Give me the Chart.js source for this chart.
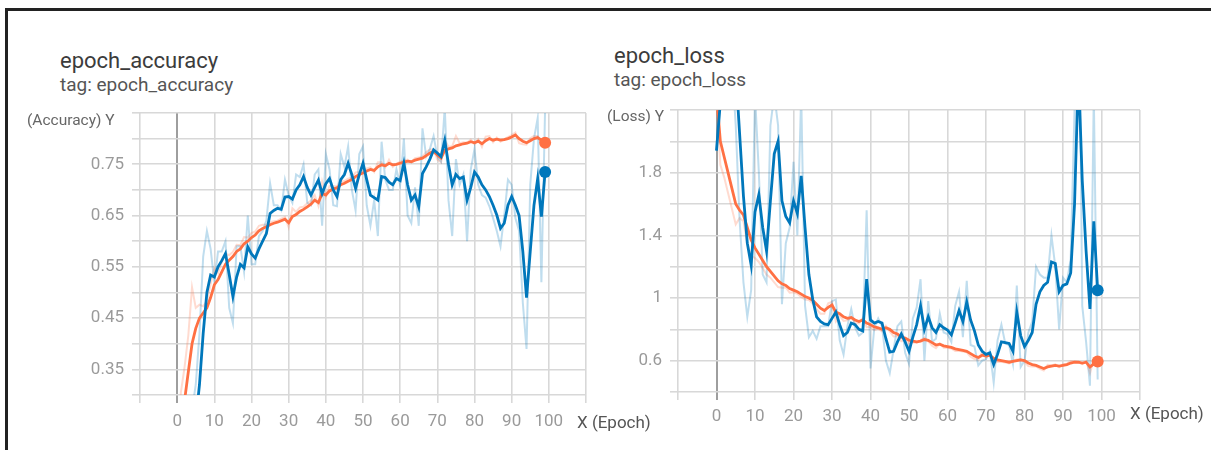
<!DOCTYPE html>
<html>
<head>
<meta charset="utf-8">
<script src="https://cdn.jsdelivr.net/npm/chart.js@4.4.0/dist/chart.umd.min.js"></script>
<style>
  html, body { margin: 0; padding: 0; background: #fff; }
  body { width: 1211px; height: 450px; position: relative; overflow: hidden; font-family: Roboto, "Noto Sans", sans-serif; }
  .frame { position: absolute; left: 5px; top: 8px; right: 0; bottom: 0; border-top: 3px solid #222; border-left: 3px solid #222; }
  .title { position: absolute; font-size: 22px; line-height: 1; color: #3c3c3c; white-space: nowrap; }
  .tag { position: absolute; font-size: 19px; line-height: 1; color: #555; white-space: nowrap; }
  .ylab { position: absolute; font-size: 15.5px; line-height: 1; color: #666; white-space: nowrap; }
  .xlab { position: absolute; font-size: 17px; line-height: 1; color: #555; white-space: nowrap; }
  canvas { position: absolute; top: 0; }
</style>
</head>
<body>
<div class="frame"></div>

<div class="title" style="left:60px;top:50px">epoch_accuracy</div>
<div class="tag" style="left:60px;top:75px">tag: epoch_accuracy</div>
<div class="title" style="left:614px;top:45px">epoch_loss</div>
<div class="tag" style="left:614px;top:70px">tag: epoch_loss</div>

<canvas id="chart-acc" width="600" height="450" style="left:0"></canvas>
<canvas id="chart-loss" width="611" height="450" style="left:600px"></canvas>

<div class="ylab" style="left:27px;top:113px">(Accuracy) Y</div>
<div class="ylab" style="left:607px;top:109px">(Loss) Y</div>
<div class="xlab" style="left:577px;top:414px">X (Epoch)</div>
<div class="xlab" style="left:1130px;top:405px">X (Epoch)</div>

<script>
// ─── Data ─────────────────────────────────────────────────────────────────────

const EPOCHS = [
  0, 1, 2, 3, 4, 5, 6, 7, 8, 9, 10, 11, 12, 13, 14, 15, 16, 17, 18, 19,
  20, 21, 22, 23, 24, 25, 26, 27, 28, 29, 30, 31, 32, 33, 34, 35, 36, 37, 38, 39,
  40, 41, 42, 43, 44, 45, 46, 47, 48, 49, 50, 51, 52, 53, 54, 55, 56, 57, 58, 59,
  60, 61, 62, 63, 64, 65, 66, 67, 68, 69, 70, 71, 72, 73, 74, 75, 76, 77, 78, 79,
  80, 81, 82, 83, 84, 85, 86, 87, 88, 89, 90, 91, 92, 93, 94, 95, 96, 97, 98, 99,
];

const X_LABELS = [0, 10, 20, 30, 40, 50, 60, 70, 80, 90, 100];
const ACC_Y_LABELS = [0.35, 0.45, 0.55, 0.65, 0.75];
const LOSS_Y_LABELS = [0.6, 1, 1.4, 1.8];

// train (orange)
const ACC_TRAIN_SMOOTH = [
  0.19, 0.24, 0.29, 0.345, 0.40, 0.43, 0.45, 0.46, 0.47, 0.49,
  0.515, 0.525, 0.54, 0.555, 0.563, 0.57, 0.58, 0.585, 0.595, 0.60,
  0.607, 0.612, 0.62, 0.625, 0.628, 0.632, 0.635, 0.637, 0.64, 0.643,
  0.636, 0.648, 0.652, 0.658, 0.662, 0.667, 0.672, 0.68, 0.675, 0.693,
  0.69, 0.698, 0.702, 0.704, 0.71, 0.713, 0.717, 0.72, 0.726, 0.73,
  0.733, 0.737, 0.74, 0.738, 0.745, 0.749, 0.747, 0.752, 0.749, 0.75,
  0.752, 0.754, 0.756, 0.755, 0.758, 0.76, 0.762, 0.767, 0.772, 0.775,
  0.768, 0.762, 0.777, 0.78, 0.782, 0.786, 0.788, 0.79, 0.791, 0.794,
  0.792, 0.795, 0.79, 0.796, 0.80, 0.797, 0.799, 0.797, 0.798, 0.80,
  0.803, 0.807, 0.80, 0.795, 0.792, 0.796, 0.80, 0.802, 0.797, 0.792,
];
const ACC_TRAIN_RAW = [
  0.19, 0.305, 0.355, 0.416, 0.51, 0.47, 0.476, 0.473, 0.483, 0.516,
  0.548, 0.538, 0.56, 0.575, 0.573, 0.579, 0.593, 0.592, 0.608, 0.607,
  0.616, 0.619, 0.63, 0.632, 0.632, 0.637, 0.639, 0.64, 0.644, 0.647,
  0.627, 0.664, 0.657, 0.666, 0.667, 0.674, 0.679, 0.69, 0.669, 0.716,
  0.686, 0.708, 0.707, 0.707, 0.718, 0.717, 0.722, 0.724, 0.734, 0.735,
  0.737, 0.742, 0.744, 0.735, 0.754, 0.754, 0.744, 0.759, 0.745, 0.751,
  0.755, 0.757, 0.759, 0.754, 0.762, 0.763, 0.765, 0.774, 0.779, 0.779,
  0.759, 0.754, 0.797, 0.784, 0.785, 0.805, 0.791, 0.793, 0.792, 0.798,
  0.789, 0.799, 0.784, 0.804, 0.805, 0.793, 0.802, 0.794, 0.799, 0.803,
  0.807, 0.812, 0.791, 0.789, 0.788, 0.801, 0.805, 0.805, 0.79, 0.786,
];

// validation (blue)
const ACC_VAL_SMOOTH = [
  0.02, 0.06, 0.10, 0.15, 0.20, 0.25, 0.32, 0.42, 0.50, 0.534,
  0.53, 0.55, 0.562, 0.576, 0.535, 0.492, 0.53, 0.555, 0.548, 0.589,
  0.575, 0.567, 0.585, 0.60, 0.615, 0.654, 0.66, 0.664, 0.662, 0.686,
  0.687, 0.682, 0.70, 0.71, 0.726, 0.705, 0.69, 0.705, 0.719, 0.693,
  0.712, 0.722, 0.70, 0.687, 0.72, 0.73, 0.752, 0.73, 0.703, 0.73,
  0.752, 0.72, 0.69, 0.685, 0.68, 0.726, 0.724, 0.715, 0.71, 0.722,
  0.718, 0.752, 0.71, 0.68, 0.69, 0.667, 0.732, 0.745, 0.76, 0.778,
  0.772, 0.765, 0.797, 0.75, 0.71, 0.73, 0.722, 0.725, 0.68, 0.705,
  0.735, 0.725, 0.71, 0.70, 0.687, 0.67, 0.651, 0.625, 0.635, 0.67,
  0.687, 0.67, 0.65, 0.58, 0.49, 0.58, 0.67, 0.722, 0.648, 0.735,
];
const ACC_VAL_RAW = [
  0.02, 0.12, 0.16, 0.22, 0.27, 0.32, 0.42, 0.57, 0.62, 0.585,
  0.52, 0.58, 0.58, 0.60, 0.47, 0.44, 0.59, 0.59, 0.54, 0.65,
  0.555, 0.555, 0.61, 0.62, 0.64, 0.713, 0.67, 0.67, 0.66, 0.72,
  0.69, 0.675, 0.73, 0.725, 0.75, 0.675, 0.67, 0.73, 0.74, 0.63,
  0.77, 0.74, 0.67, 0.668, 0.77, 0.745, 0.785, 0.70, 0.66, 0.77,
  0.785, 0.67, 0.63, 0.68, 0.61, 0.794, 0.72, 0.70, 0.70, 0.74,
  0.71, 0.80, 0.65, 0.635, 0.705, 0.63, 0.82, 0.765, 0.78, 0.805,
  0.765, 0.755, 0.86, 0.68, 0.61, 0.76, 0.71, 0.73, 0.60, 0.74,
  0.78, 0.71, 0.69, 0.685, 0.668, 0.645, 0.62, 0.59, 0.65, 0.72,
  0.71, 0.645, 0.62, 0.48, 0.39, 0.71, 0.80, 0.84, 0.52, 0.86,
];

const LOSS_TRAIN_SMOOTH = [
  2.30, 2.00, 1.90, 1.80, 1.70, 1.60, 1.56, 1.53, 1.45, 1.37,
  1.32, 1.28, 1.24, 1.20, 1.17, 1.14, 1.11, 1.09, 1.08, 1.06,
  1.05, 1.04, 1.025, 1.01, 1.00, 0.985, 0.96, 0.935, 0.92, 0.94,
  0.955, 0.91, 0.90, 0.88, 0.87, 0.875, 0.86, 0.85, 0.86, 0.84,
  0.83, 0.815, 0.81, 0.80, 0.81, 0.80, 0.78, 0.77, 0.75, 0.745,
  0.73, 0.725, 0.72, 0.725, 0.735, 0.73, 0.715, 0.70, 0.705, 0.695,
  0.69, 0.685, 0.675, 0.67, 0.665, 0.66, 0.645, 0.63, 0.62, 0.635,
  0.63, 0.635, 0.615, 0.605, 0.60, 0.595, 0.59, 0.595, 0.60, 0.605,
  0.60, 0.585, 0.575, 0.57, 0.56, 0.55, 0.56, 0.565, 0.57, 0.565,
  0.57, 0.575, 0.585, 0.59, 0.59, 0.585, 0.59, 0.56, 0.58, 0.595,
];
const LOSS_TRAIN_RAW = [
  2.30, 1.85, 1.77, 1.67, 1.57, 1.47, 1.51, 1.49, 1.35, 1.27,
  1.255, 1.23, 1.19, 1.15, 1.13, 1.10, 1.07, 1.065, 1.067, 1.034,
  1.037, 1.027, 1.006, 0.99, 0.987, 0.965, 0.928, 0.90, 0.90, 0.966,
  0.975, 0.85, 0.887, 0.854, 0.857, 0.88, 0.84, 0.837, 0.873, 0.814,
  0.817, 0.795, 0.803, 0.787, 0.823, 0.787, 0.754, 0.757, 0.724, 0.738,
  0.71, 0.718, 0.713, 0.73, 0.748, 0.723, 0.695, 0.68, 0.71, 0.682,
  0.683, 0.678, 0.662, 0.663, 0.658, 0.653, 0.625, 0.61, 0.607, 0.655,
  0.623, 0.64, 0.589, 0.592, 0.593, 0.588, 0.583, 0.60, 0.607, 0.61,
  0.593, 0.565, 0.562, 0.563, 0.547, 0.537, 0.573, 0.57, 0.577, 0.558,
  0.577, 0.58, 0.598, 0.597, 0.59, 0.578, 0.597, 0.52, 0.606, 0.615,
];

const LOSS_VAL_SMOOTH = [
  1.94, 2.25, 2.6, 2.9, 2.8, 2.45, 2.05, 1.65, 1.35, 1.21,
  1.55, 1.66, 1.45, 1.30, 1.62, 1.92, 2.0, 1.62, 1.52, 1.48,
  1.62, 1.54, 1.78, 1.45, 1.15, 0.99, 0.88, 0.85, 0.835, 0.83,
  0.87, 0.91, 0.83, 0.76, 0.78, 0.84, 0.83, 0.80, 0.79, 1.12,
  0.86, 0.84, 0.85, 0.84, 0.74, 0.655, 0.66, 0.72, 0.77, 0.72,
  0.66, 0.75, 0.83, 0.95, 0.80, 0.88, 0.81, 0.78, 0.83, 0.81,
  0.795, 0.765, 0.84, 0.92, 0.85, 0.975, 0.86, 0.79, 0.70, 0.66,
  0.64, 0.65, 0.575, 0.64, 0.72, 0.715, 0.71, 0.66, 0.91, 0.76,
  0.69, 0.73, 0.78, 0.96, 1.04, 1.08, 1.10, 1.23, 1.22, 1.04,
  1.08, 1.09, 1.16, 1.6, 2.45, 1.75, 1.30, 0.93, 1.49, 1.05,
];
const LOSS_VAL_RAW = [
  1.94, 2.5, 3.2, 3.1, 2.5, 2.1, 1.5, 1.1, 0.88, 1.05,
  2.3, 1.8, 1.15, 1.10, 2.1, 2.3, 2.1, 0.96, 1.35, 1.45,
  1.87, 1.40, 2.3, 0.95, 0.75, 0.79, 0.74, 0.82, 0.82, 0.82,
  0.98, 0.99, 0.73, 0.64, 0.82, 0.93, 0.81, 0.76, 0.78, 1.56,
  0.55, 0.81, 0.87, 0.82, 0.60, 0.52, 0.67, 0.82, 0.85, 0.65,
  0.58, 0.87, 0.94, 1.12, 0.60, 0.98, 0.72, 0.74, 0.90, 0.78,
  0.77, 0.72, 0.95, 1.04, 0.75, 1.11, 0.70, 0.69, 0.57, 0.60,
  0.61, 0.66, 0.46, 0.73, 0.83, 0.71, 0.70, 0.58, 1.08, 0.56,
  0.60, 0.78, 0.85, 1.20, 1.15, 1.13, 1.13, 1.40, 1.20, 0.80,
  1.13, 1.10, 1.25, 2.2, 3.5, 0.95, 0.72, 0.44, 2.3, 0.48,
];

// ─── Styles ───────────────────────────────────────────────────────────────────

const BLUE = "#0077bb";
const ORANGE = "#ff7043";
const BLUE_FAINT = "rgba(0, 119, 187, 0.25)";
const ORANGE_FAINT = "rgba(255, 112, 67, 0.25)";
const GRID = "#d8d8d8";
const ZERO_LINE = "#9e9e9e";
const TICK_COLOR = "#9a9a9a";
const FONT = "Roboto, 'Noto Sans', sans-serif";

// ─── Builders ─────────────────────────────────────────────────────────────────

function toPoints(values) {
  return values.map((v, i) => ({ x: EPOCHS[i], y: v }));
}

function smoothLine(values, color) {
  const last = values.length - 1;
  return {
    data: toPoints(values),
    borderColor: color,
    backgroundColor: color,
    borderWidth: 2.8,
    pointRadius: (ctx) => (ctx.dataIndex === last ? 6 : 0),
    pointBorderWidth: 0,
    pointHoverRadius: 0,
    tension: 0,
    clip: 0,
  };
}

function rawLine(values, color) {
  return {
    data: toPoints(values),
    borderColor: color,
    borderWidth: 2,
    pointRadius: 0,
    tension: 0,
    clip: 0,
  };
}

function hasLabel(list, value) {
  return list.some((l) => Math.abs(l - value) < 1e-6);
}

function buildChart(id, series, box, yAxis) {
  const ctx = document.getElementById(id).getContext("2d");
  return new Chart(ctx, {
    type: "line",
    data: {
      datasets: [
        smoothLine(series.valSmooth, BLUE),
        smoothLine(series.trainSmooth, ORANGE),
        rawLine(series.valRaw, BLUE_FAINT),
        rawLine(series.trainRaw, ORANGE_FAINT),
      ],
    },
    options: {
      responsive: false,
      animation: false,
      events: [],
      layout: { padding: { top: box.top, right: box.right, left: 0, bottom: 0 } },
      plugins: { legend: { display: false }, tooltip: { enabled: false } },
      scales: {
        x: {
          type: "linear",
          min: -10,
          max: 110,
          afterFit: (scale) => { scale.height = box.xHeight; },
          ticks: {
            stepSize: 10,
            autoSkip: false,
            maxRotation: 0,
            padding: box.xPad,
            color: TICK_COLOR,
            font: { family: FONT, size: 17 },
            callback: (v) => (hasLabel(X_LABELS, v) ? String(v) : ""),
          },
          grid: {
            color: (c) => (c.tick && c.tick.value === 0 ? ZERO_LINE : GRID),
            lineWidth: (c) => (c.tick && c.tick.value === 0 ? 2 : 1.6),
            tickLength: 8,
          },
          border: { display: false },
        },
        y: {
          min: yAxis.min,
          max: yAxis.max,
          afterFit: (scale) => { scale.width = box.yWidth; },
          ticks: {
            stepSize: yAxis.step,
            autoSkip: false,
            padding: 8,
            color: TICK_COLOR,
            font: { family: FONT, size: 17 },
            callback: (v) => (hasLabel(yAxis.labels, v) ? String(Math.round(v * 100) / 100) : ""),
          },
          grid: { color: GRID, lineWidth: 1.6, tickLength: 8 },
          border: { display: false },
        },
      },
    },
  });
}

// ─── Init ─────────────────────────────────────────────────────────────────────

buildChart(
  "chart-acc",
  { trainSmooth: ACC_TRAIN_SMOOTH, trainRaw: ACC_TRAIN_RAW, valSmooth: ACC_VAL_SMOOTH, valRaw: ACC_VAL_RAW },
  { top: 113, right: 14, yWidth: 140, xHeight: 55, xPad: 9 },
  { min: 0.3, max: 0.85, step: 0.05, labels: ACC_Y_LABELS }
);

buildChart(
  "chart-loss",
  { trainSmooth: LOSS_TRAIN_SMOOTH, trainRaw: LOSS_TRAIN_RAW, valSmooth: LOSS_VAL_SMOOTH, valRaw: LOSS_VAL_RAW },
  { top: 110, right: 71, yWidth: 78, xHeight: 58, xPad: 7 },
  { min: 0.4, max: 2.2, step: 0.2, labels: LOSS_Y_LABELS }
);
</script>
</body>
</html>
